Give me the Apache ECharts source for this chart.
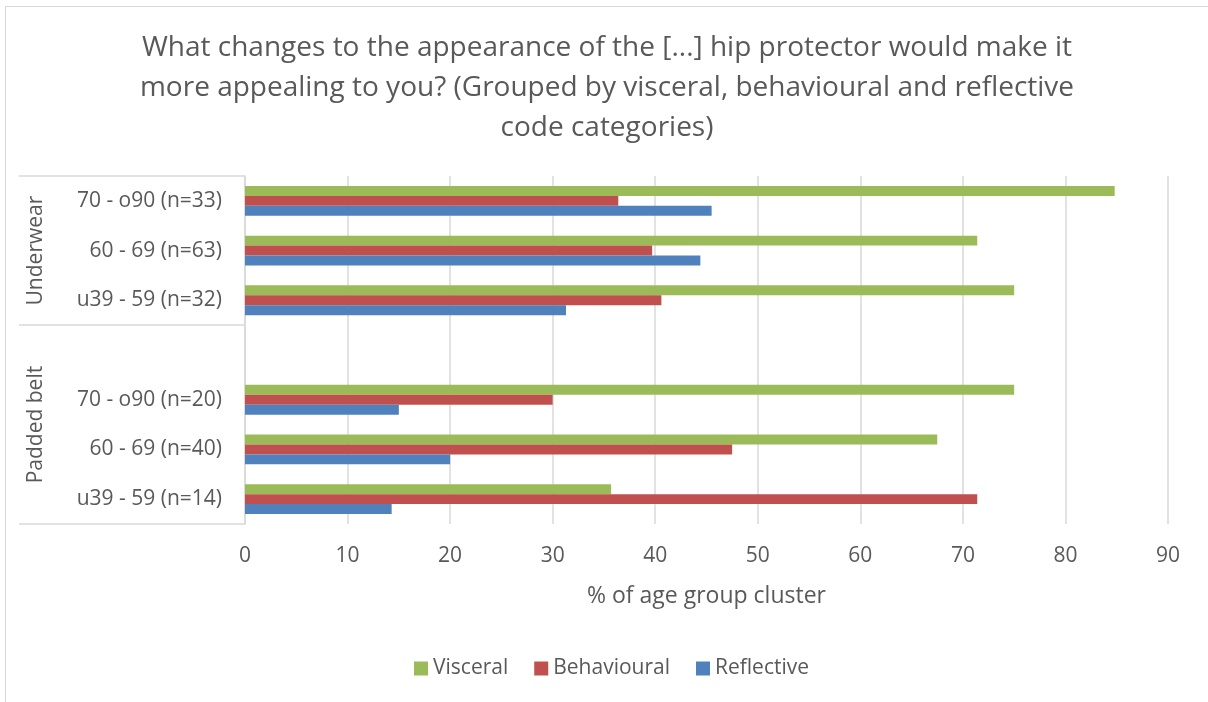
<!DOCTYPE html>
<html>
<head>
<meta charset="utf-8">
<script src="https://cdn.jsdelivr.net/npm/echarts@6/dist/echarts.min.js"></script>
<style>
  html, body { margin: 0; padding: 0; background: #fff; }
  #chart { position: absolute; left: 0; top: 0; width: 1208px; height: 702px; }
  #frame { position: absolute; left: 5px; top: 6px; width: 1220px; height: 720px;
           border-left: 1.5px solid #d9d9d9; border-top: 1.5px solid #d9d9d9; pointer-events: none; }
</style>
</head>
<body>
<div id="chart"></div>
<div id="frame"></div>
<script>
// ---- data ----
const categories = ['70 - o90 (n=33)', '60 - 69 (n=63)', 'u39 - 59 (n=32)', '',
                    '70 - o90 (n=20)', '60 - 69 (n=40)', 'u39 - 59 (n=14)'];
const visceral    = [84.8, 71.4, 75.0, null, 75.0, 67.5, 35.7];
const behavioural = [36.4, 39.7, 40.6, null, 30.0, 47.5, 71.4];
const reflective  = [45.5, 44.4, 31.3, null, 15.0, 20.0, 14.3];
const seriesNames = ['Visceral', 'Behavioural', 'Reflective'];
const groupNames = ['Underwear', 'Padded belt'];
const groupStart = [0, 3];   // first slot of each group
const groupEnd   = [3, 7];   // slot after last of each group
const xTicks = [0, 10, 20, 30, 40, 50, 60, 70, 80, 90];

// half-slot positions for the group axis (boundaryGap false)
const halfSlots = [];
for (let i = 0; i <= categories.length * 2; i++) halfSlots.push('');
groupNames.forEach((g, k) => { halfSlots[groupStart[k] + groupEnd[k]] = g; });
const tickIdx = new Set([0].concat(groupEnd.map(e => e * 2)));

const FONT = 'Open Sans';
const TXT = '#595959';
const GRID = '#d9d9d9';
const colors = ['#9bbb59', '#c0504d', '#4f81bd'];

const chart = echarts.init(document.getElementById('chart'), null, { renderer: 'canvas' });
chart.setOption({
  animation: false,
  color: colors,
  textStyle: { fontFamily: FONT },
  title: {
    text: 'What changes to the appearance of the [...] hip protector would make it\nmore appealing to you? (Grouped by visceral, behavioural and reflective\ncode categories)',
    left: 602, top: 23,
    textAlign: 'center',
    textStyle: { fontFamily: FONT, fontSize: 28, fontWeight: 'normal', color: TXT, lineHeight: 40 }
  },
  legend: {
    data: seriesNames,
    bottom: 18, left: 409,
    itemWidth: 14, itemHeight: 14, itemGap: 26,
    icon: 'rect',
    textStyle: { fontFamily: FONT, fontSize: 21, color: TXT }
  },
  grid: { left: 245, right: 40, top: 176, bottom: 178, containLabel: false },
  xAxis: {
    type: 'value', min: 0, max: 90, interval: 10,
    axisLine: { show: false }, axisTick: { show: false },
    splitLine: { show: true, lineStyle: { color: GRID, width: 1.5 } },
    axisLabel: { color: TXT, fontSize: 21, margin: 22, fontFamily: FONT,
                 formatter: v => xTicks.includes(v) ? String(v) : '' },
    name: '% of age group cluster', nameLocation: 'middle', nameGap: 61,
    nameTextStyle: { color: TXT, fontSize: 23, fontFamily: FONT }
  },
  yAxis: [
    {
      type: 'category', inverse: true, data: categories,
      axisLine: { show: true, lineStyle: { color: GRID, width: 1.5 } },
      axisTick: { show: false },
      axisLabel: { color: TXT, fontSize: 21, margin: 23, interval: 0, fontFamily: FONT }
    },
    {
      type: 'category', inverse: true, boundaryGap: false, data: halfSlots,
      position: 'left', offset: 226,
      axisLine: { show: false },
      axisTick: { show: true, inside: true, length: 226, interval: (i) => tickIdx.has(i),
                  lineStyle: { color: GRID, width: 1.5 } },
      axisLabel: { show: true, inside: true, rotate: 90, interval: 0, margin: 7,
                   color: TXT, fontSize: 21, fontFamily: FONT },
      splitLine: { show: false }
    }
  ],
  series: [
    { name: seriesNames[0], type: 'bar', data: visceral, barGap: '0%', barCategoryGap: '40%' },
    { name: seriesNames[1], type: 'bar', data: behavioural, barGap: '0%', barCategoryGap: '40%' },
    { name: seriesNames[2], type: 'bar', data: reflective, barGap: '0%', barCategoryGap: '40%' }
  ]
});
</script>
</body>
</html>
